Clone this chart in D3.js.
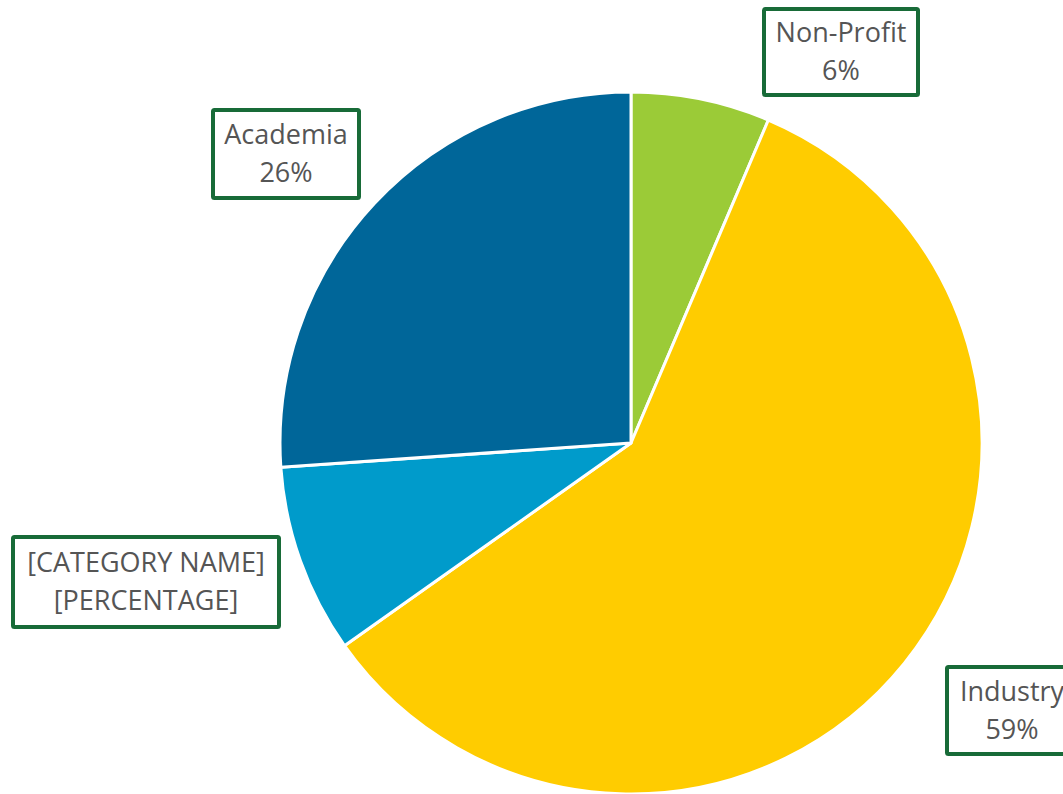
<!DOCTYPE html>
<html>
<head>
<meta charset="utf-8">
<script src="https://cdn.jsdelivr.net/npm/d3@7"></script>
<style>
  html, body { margin: 0; padding: 0; background: #fff; }
  svg { display: block; }
</style>
</head>
<body>
<svg id="chart"></svg>
<script>
// data
const categories = ["Non-Profit", "Industry", "[CATEGORY NAME]", "Academia"];
const values = [6.4, 58.8, 8.7, 26.1];
const pctLabels = ["6%", "59%", "[PERCENTAGE]", "26%"];
const colors = ["#9bcb37", "#ffcc00", "#009bcb", "#006699"];

const width = 1063, height = 794;
const cx = 631, cy = 443, radius = 351;

// label boxes as placed in the original (x, y, w, h)
const boxes = [
  { x: 764, y: 9, w: 154, h: 86 },
  { x: 947, y: 667, w: 130, h: 87 },
  { x: 13, y: 537, w: 266, h: 90 },
  { x: 213, y: 110, w: 146, h: 88 }
];

const svg = d3.select("#chart")
    .attr("width", width)
    .attr("height", height);

const data = categories.map((c, i) => ({ name: c, value: values[i], pct: pctLabels[i] }));

const pie = d3.pie()
    .sort(null)
    .value(d => d.value);

const arc = d3.arc()
    .innerRadius(0)
    .outerRadius(radius);

const g = svg.append("g")
    .attr("transform", `translate(${cx},${cy})`);

g.selectAll("path")
    .data(pie(data))
    .join("path")
    .attr("d", arc)
    .attr("fill", (d, i) => colors[i])
    .attr("stroke", "#fff")
    .attr("stroke-width", 3)
    .attr("stroke-linejoin", "round");

const labels = svg.append("g")
    .selectAll("g")
    .data(data)
    .join("g")
    .attr("transform", (d, i) => `translate(${boxes[i].x},${boxes[i].y})`);

labels.append("rect")
    .attr("width", (d, i) => boxes[i].w)
    .attr("height", (d, i) => boxes[i].h)
    .attr("fill", "#fff")
    .attr("stroke", "#186b38")
    .attr("stroke-width", 4)
    .attr("rx", 1.5);

const txt = labels.append("text")
    .attr("font-family", "'Open Sans', sans-serif")
    .attr("font-size", 27)
    .attr("fill", "#555555")
    .attr("text-anchor", "middle");

txt.append("tspan")
    .attr("x", (d, i) => boxes[i].w / 2)
    .attr("y", (d, i) => boxes[i].h / 2 - 10)
    .text(d => d.name);

txt.append("tspan")
    .attr("x", (d, i) => boxes[i].w / 2)
    .attr("y", (d, i) => boxes[i].h / 2 + 28)
    .text(d => d.pct);
</script>
</body>
</html>
